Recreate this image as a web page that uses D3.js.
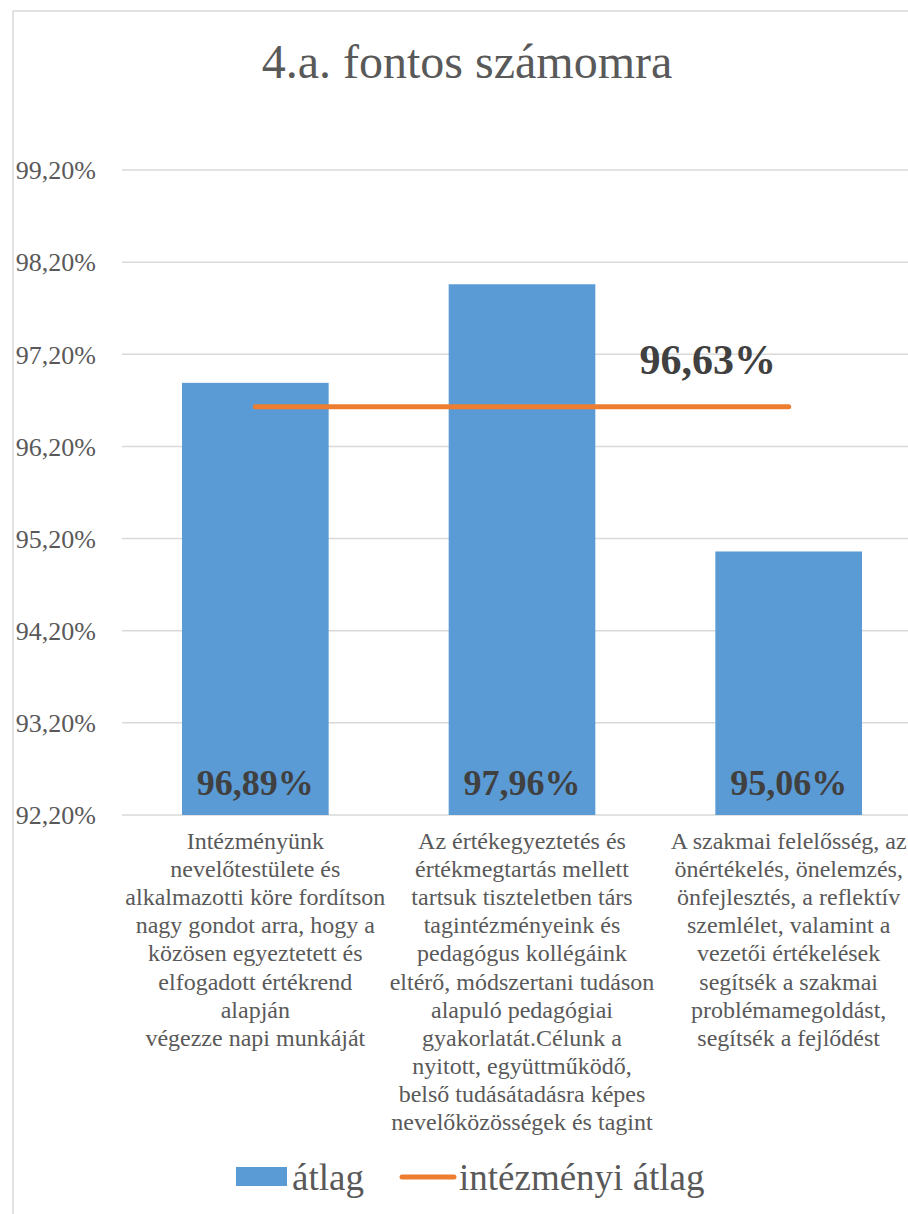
<!DOCTYPE html>
<html>
<head>
<meta charset="utf-8">
<script src="https://cdn.jsdelivr.net/npm/d3@7"></script>
<style>
  html, body { margin: 0; padding: 0; background: #ffffff; }
  svg { display: block; }
  text { font-family: "Liberation Serif", "Times New Roman", serif; }
</style>
</head>
<body>
<svg id="chart" width="908" height="1214"></svg>
<script>
const title = "4.a. fontos számomra";
const categories = [
  ["Intézményünk", "nevelőtestülete és", "alkalmazotti köre fordítson", "nagy gondot arra, hogy a", "közösen egyeztetett és", "elfogadott értékrend", "alapján", "végezze napi munkáját"],
  ["Az értékegyeztetés és", "értékmegtartás mellett", "tartsuk tiszteletben társ", "tagintézményeink és", "pedagógus kollégáink", "eltérő, módszertani tudáson", "alapuló pedagógiai", "gyakorlatát.Célunk a", "nyitott, együttműködő,", "belső tudásátadásra képes", "nevelőközösségek és tagint"],
  ["A szakmai felelősség, az", "önértékelés, önelemzés,", "önfejlesztés, a reflektív", "szemlélet, valamint a", "vezetői értékelések", "segítsék a szakmai", "problémamegoldást,", "segítsék a fejlődést"]
];
const atlag = [96.89, 97.96, 95.06];
const intezmenyiAtlag = [96.63, 96.63, 96.63];
const yTicks = [92.2, 93.2, 94.2, 95.2, 96.2, 97.2, 98.2, 99.2];
const seriesNames = ["átlag", "intézményi átlag"];

const fmt = v => v.toFixed(2).replace(".", ",") + "%";

const svg = d3.select("#chart");
const pLeft = 122, pRight = 922, pTop = 170, pBottom = 815;
const keys = categories.map((c, i) => "c" + i);

const x = d3.scaleBand().domain(keys).range([pLeft, pRight]).paddingInner(0.45).paddingOuter(0.225);
const y = d3.scaleLinear().domain([92.2, 99.2]).range([pBottom, pTop]);

// chart border
svg.append("rect").attr("x", 13).attr("y", 11).attr("width", 1000).attr("height", 1300)
  .attr("fill", "none").attr("stroke", "#d9d9d9").attr("stroke-width", 1.5);

// title
svg.append("text").attr("x", 467).attr("y", 78).attr("text-anchor", "middle")
  .attr("font-size", 48).attr("fill", "#595959").text(title);

// gridlines
svg.append("g").selectAll("line").data(yTicks).join("line")
  .attr("x1", pLeft).attr("x2", pRight)
  .attr("y1", d => y(d)).attr("y2", d => y(d))
  .attr("stroke", "#d9d9d9").attr("stroke-width", 1.5);

// y axis labels
const yAxis = d3.axisLeft(y).tickValues(yTicks).tickFormat(fmt).tickSize(0).tickPadding(0);
const gy = svg.append("g").attr("transform", "translate(96,0)").call(yAxis);
gy.select(".domain").remove();
gy.selectAll("text").attr("font-size", 26).attr("fill", "#595959")
  .attr("font-family", "Liberation Serif, serif").attr("dy", "0.34em");

// bars
svg.append("g").selectAll("rect").data(atlag).join("rect")
  .attr("x", (d, i) => x(keys[i])).attr("width", x.bandwidth())
  .attr("y", d => y(d)).attr("height", d => y(92.2) - y(d))
  .attr("fill", "#5b9bd5");

// bar labels
svg.append("g").selectAll("text").data(atlag).join("text")
  .attr("x", (d, i) => x(keys[i]) + x.bandwidth() / 2)
  .attr("y", pBottom - 20)
  .attr("text-anchor", "middle").attr("font-size", 36).attr("font-weight", "bold")
  .attr("fill", "#404040").text(d => fmt(d));

// average line
const line = d3.line().x((d, i) => x(keys[i]) + x.bandwidth() / 2).y(d => y(d));
svg.append("path").datum(intezmenyiAtlag).attr("d", line)
  .attr("fill", "none").attr("stroke", "#ed7d31").attr("stroke-width", 5).attr("stroke-linecap", "round");

// average label
const lastI = intezmenyiAtlag.length - 1;
svg.append("text")
  .attr("x", x(keys[lastI]) + x.bandwidth() / 2 - 81)
  .attr("y", y(intezmenyiAtlag[lastI]) - 33)
  .attr("text-anchor", "middle").attr("font-size", 42).attr("font-weight", "bold")
  .attr("fill", "#404040").text(fmt(intezmenyiAtlag[lastI]));

// category labels
const lh = 28.1;
categories.forEach((lines, i) => {
  const t = svg.append("text").attr("text-anchor", "middle").attr("font-size", 24).attr("fill", "#595959");
  lines.forEach((ln, j) => {
    t.append("tspan").attr("x", x(keys[i]) + x.bandwidth() / 2).attr("y", 849 + j * lh).text(ln);
  });
});

// legend
const lg = svg.append("g");
lg.append("rect").attr("x", 236).attr("y", 1167).attr("width", 51).attr("height", 19).attr("fill", "#5b9bd5");
lg.append("text").attr("x", 292).attr("y", 1190).attr("font-size", 37).attr("fill", "#595959").text(seriesNames[0]);
lg.append("line").attr("x1", 402).attr("x2", 454).attr("y1", 1177).attr("y2", 1177)
  .attr("stroke", "#ed7d31").attr("stroke-width", 5).attr("stroke-linecap", "round");
lg.append("text").attr("x", 459).attr("y", 1190).attr("font-size", 37).attr("fill", "#595959").text(seriesNames[1]);
</script>
</body>
</html>
